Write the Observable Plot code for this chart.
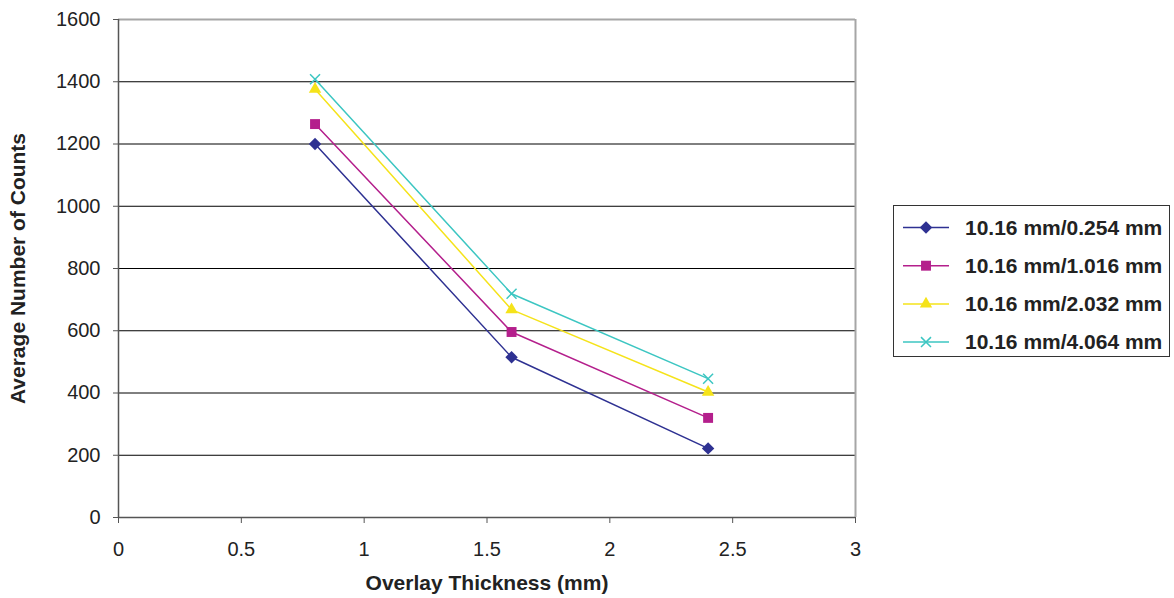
<!DOCTYPE html>
<html><head><meta charset="utf-8">
<script src="https://cdn.jsdelivr.net/npm/d3@7"></script>
<script src="https://cdn.jsdelivr.net/npm/@observablehq/plot@0.6"></script>
<style>
html,body{margin:0;padding:0;background:#fff;}
#wrap{position:relative;width:1174px;height:598px;}
#legend{position:absolute;left:0;top:0;pointer-events:none;}
</style></head><body><div id="wrap"></div>
<script>
// ---- data ----
const thickness = [0.8, 1.6, 2.4];
const seriesNames = ["10.16 mm/0.254 mm", "10.16 mm/1.016 mm", "10.16 mm/2.032 mm", "10.16 mm/4.064 mm"];
const counts0254 = [1200, 515, 222];
const counts1016 = [1264, 596, 320];
const counts2032 = [1376, 668, 403];
const counts4064 = [1408, 719, 446];
const xTicks = [0, 0.5, 1, 1.5, 2, 2.5, 3];
const yTicks = [0, 200, 400, 600, 800, 1000, 1200, 1400, 1600];
const gridValues = [200, 400, 600, 800, 1000, 1200, 1400];
const xTitle = "Overlay Thickness (mm)";
const yTitle = "Average Number of Counts";

// ---- styles ----
const seriesColors = ["#2e3192", "#b41f8c", "#f5e31a", "#3cc6c2"];
const seriesSymbols = ["diamond2", "square", "triangle", "times"];
const symbolR = [5.6, 5.6, 4.6, 4.6];
const font = "'Liberation Sans', Arial, Helvetica, sans-serif";

const allCounts = [counts0254, counts1016, counts2032, counts4064];
const seriesData = seriesNames.map((name, i) =>
  thickness.map((t, j) => ({series: name, x: t, y: allCounts[i][j]})));

const marks = [
  Plot.ruleY(gridValues, {stroke: "#000", strokeWidth: 1}),
  Plot.ruleY([1600], {stroke: "#a6a6a6", strokeWidth: 2}),
  Plot.ruleX([3], {stroke: "#a6a6a6", strokeWidth: 2}),
  Plot.ruleX([0], {stroke: "#555", strokeWidth: 1.5}),
  Plot.ruleY([0], {stroke: "#555", strokeWidth: 1.5}),
  Plot.axisY(yTicks, {tickSize: 5, tickPadding: 13, fontSize: 20, stroke: "#555", fill: "#222", label: null, tickFormat: d => String(d)}),
  Plot.axisX(xTicks, {tickSize: 6, tickPadding: 18, fontSize: 20, stroke: "#555", fill: "#222", label: null, tickFormat: d => String(d)}),
  Plot.text([yTitle], {frameAnchor: "left", textAnchor: "middle", rotate: -90, lineAnchor: "top", dx: -108, fontWeight: "bold", fontSize: 21, fill: "#222"}),
  Plot.text([xTitle], {frameAnchor: "bottom", textAnchor: "middle", lineAnchor: "bottom", dy: 72, fontWeight: "bold", fontSize: 21, fill: "#222"})
];
seriesData.forEach((d, i) => {
  marks.push(Plot.line(d, {x: "x", y: "y", stroke: seriesColors[i], strokeWidth: 1.5}));
  if (seriesSymbols[i] === "times") {
    marks.push(Plot.dot(d, {x: "x", y: "y", symbol: "times", r: symbolR[i], stroke: seriesColors[i], strokeWidth: 1.5, fill: "none"}));
  } else {
    marks.push(Plot.dot(d, {x: "x", y: "y", symbol: seriesSymbols[i], r: symbolR[i], fill: seriesColors[i], stroke: "none"}));
  }
});

const chart = Plot.plot({
  width: 1174,
  height: 598,
  marginLeft: 118,
  marginRight: 319,
  marginTop: 19,
  marginBottom: 81,
  x: {domain: [0, 3]},
  y: {domain: [0, 1600]},
  style: {fontFamily: font, background: "#fff", color: "#222"},
  marks
});
const wrap = document.getElementById("wrap");
wrap.appendChild(chart);

// ---- legend ----
const leg = d3.select(wrap).append("svg").attr("id", "legend")
  .attr("width", 1174).attr("height", 598);
leg.append("rect").attr("x", 893.5).attr("y", 205.5).attr("width", 276).attr("height", 151)
  .attr("fill", "#fff").attr("stroke", "#333").attr("stroke-width", 1);
const symMap = {diamond2: d3.symbolDiamond2, square: d3.symbolSquare, triangle: d3.symbolTriangle, times: d3.symbolTimes};
seriesNames.forEach((name, i) => {
  const y = 227.5 + i * 38.2;
  const g = leg.append("g").attr("transform", `translate(0,${y})`);
  g.append("line").attr("x1", 903).attr("x2", 949).attr("y1", 0).attr("y2", 0)
    .attr("stroke", seriesColors[i]).attr("stroke-width", 1.5);
  const size = Math.PI * symbolR[i] * symbolR[i];
  const p = g.append("path").attr("transform", "translate(926,0)")
    .attr("d", d3.symbol(symMap[seriesSymbols[i]], size)());
  if (seriesSymbols[i] === "times") p.attr("fill", "none").attr("stroke", seriesColors[i]).attr("stroke-width", 1.5);
  else p.attr("fill", seriesColors[i]);
  g.append("text").attr("x", 965).attr("y", 0).attr("dy", "0.35em")
    .attr("font-family", font).attr("font-weight", "bold").attr("font-size", 21).attr("fill", "#222")
    .text(name);
});
</script></body></html>
